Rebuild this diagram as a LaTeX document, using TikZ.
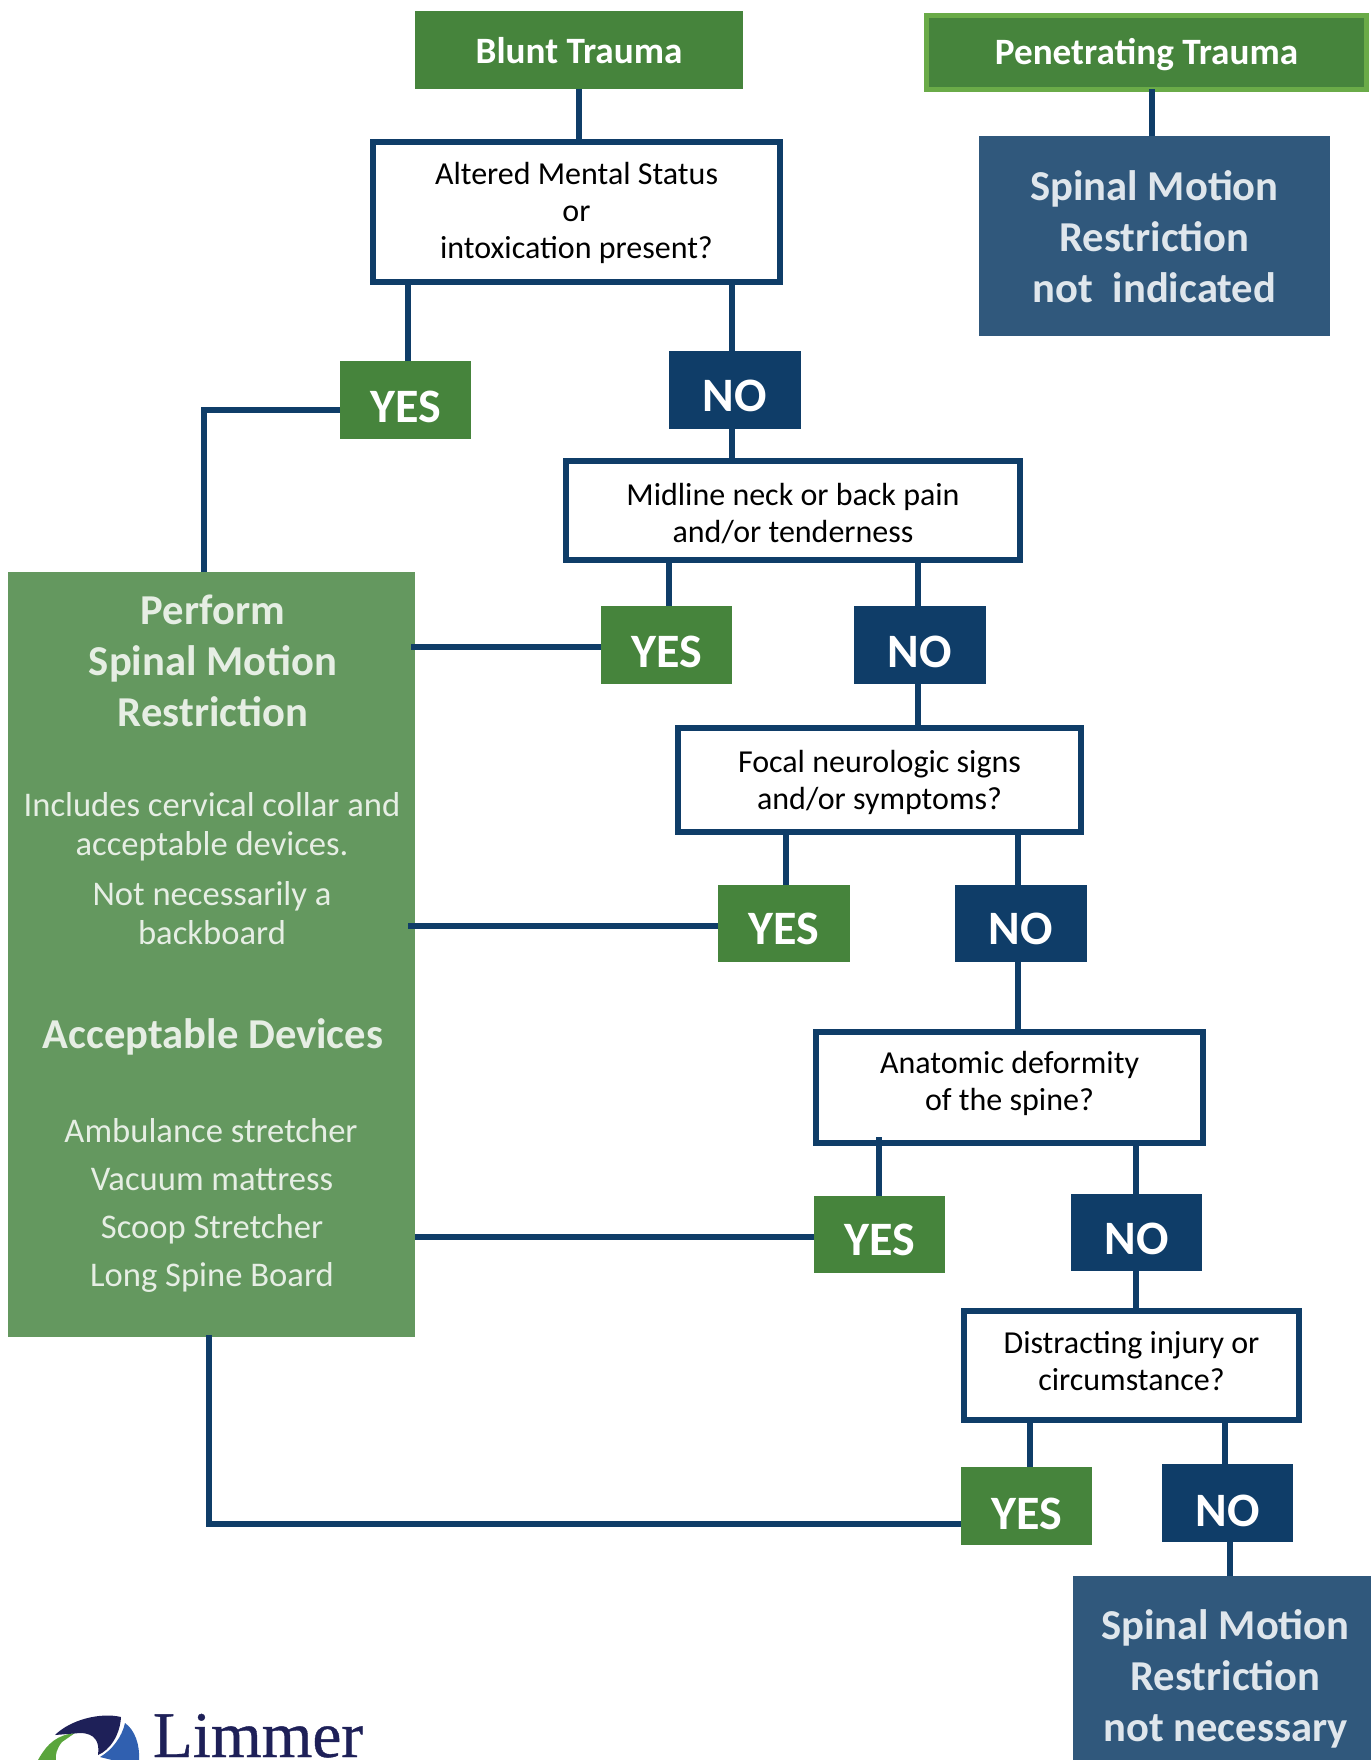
\documentclass[tikz,border=0pt]{standalone}
\usepackage{fontspec}
\setmainfont{Carlito}
\newfontfamily\logofont[FakeBold=0.6]{Liberation Serif}
\definecolor{linec}{HTML}{0F3D68}
\definecolor{yesc}{HTML}{46843C}
\definecolor{penb}{HTML}{6AAB48}
\definecolor{smrb}{HTML}{30587C}
\definecolor{smrt}{HTML}{DFE6EC}
\definecolor{perf}{HTML}{64985F}
\definecolor{perft}{HTML}{E6EEE4}
\definecolor{logon}{HTML}{1E2058}
\definecolor{logob}{HTML}{3060B0}
\definecolor{logog}{HTML}{5AA53C}
\tikzset{
  basebox/.style={inner sep=0pt,outer sep=0pt,align=center},
  titlebox/.style={basebox,fill=yesc,text=white,font=\fontsize{18.6}{22}\selectfont\bfseries},
  pentitle/.style={titlebox,draw=penb,line width=2.5pt},
  qbox/.style={basebox,draw=linec,line width=2.8pt,fill=white,text=black,font=\fontsize{16}{18.5}\selectfont},
  yesbox/.style={basebox,fill=yesc,text=white,font=\fontsize{24}{28}\selectfont\bfseries},
  nobox/.style={basebox,fill=linec,text=white,font=\fontsize{24}{28}\selectfont\bfseries},
  smrbox/.style={basebox,fill=smrb,text=smrt,font=\fontsize{21.3}{25.5}\selectfont\bfseries},
  perfbox/.style={basebox,fill=perf},
  ph/.style={basebox,text=perft,font=\fontsize{21.3}{25.5}\selectfont\bfseries},
  pb/.style={basebox,text=perft,font=\fontsize{17.3}{19.5}\selectfont},
  conn/.style={draw=linec,line width=2.8pt},
}
\def\xpad{}
% style, name, x1, y1, x2, y2, downward text shift in pt, text
\newcommand\bx[8]{\node[#1,minimum width={(#5-#3)*0.5pt},minimum height={(#6-#4)*0.5pt}] (#2) at ({(#3+#5)/2},{(#4+#6)/2}) {\xpad\raisebox{-#7pt}[\height][\depth]{\begin{tabular}{@{}c@{}}#8\end{tabular}}};}
\begin{document}
\begin{tikzpicture}[x=0.5pt,y=-0.5pt]
\useasboundingbox (0,0) rectangle (1371,1760);
% boxes
\bx{titlebox}{blunt}{415}{11}{743}{89}{2.2}{Blunt Trauma}
\bx{pentitle}{pen}{926.5}{15.5}{1366.5}{89.5}{1.7}{Penetrating Trauma}
\bx{smrbox}{smrni}{979}{136}{1330}{336}{2.8}{Spinal Motion\\Restriction\\not\ \ indicated}
\bx{qbox}{alt}{373}{142}{780}{282}{1.1}{Altered Mental Status\\or\\intoxication present?}
\bx{yesbox}{yesA}{340}{361}{471}{439}{5.6}{YES}
\bx{nobox}{noA}{669}{351}{800.5}{429}{5}{NO}
\bx{qbox}{mid}{566}{461}{1020}{560}{2.8}{Midline neck or back pain\\and/or tenderness}
\bx{yesbox}{yesB}{601}{606}{732}{684}{5.6}{YES}
\bx{nobox}{noB}{854}{606}{986}{684}{5.6}{NO}
\bx{qbox}{foc}{678}{728}{1081}{832}{1.7}{Focal neurologic signs\\and/or symptoms?}
\bx{yesbox}{yesC}{718}{885}{850}{962}{5}{YES}
\bx{nobox}{noC}{955}{885}{1087}{962}{5}{NO}
\bx{qbox}{ana}{816}{1032}{1203}{1143}{-1.7}{Anatomic deformity\\of the spine?}
\bx{yesbox}{yesD}{814}{1196}{945}{1273}{5}{YES}
\bx{nobox}{noD}{1071}{1194}{1202}{1271}{5.6}{NO}
\bx{qbox}{dis}{964}{1311}{1299}{1420}{-0.6}{Distracting injury or\\circumstance?}
\bx{yesbox}{yesE}{961}{1467}{1092}{1545}{6.2}{YES}
\bx{nobox}{noE}{1162}{1464}{1293}{1542}{6.2}{NO}
\def\xpad{\hspace{3.4pt}}
\bx{smrbox}{smrnn}{1073}{1576}{1371}{1760}{6.2}{Spinal Motion\\Restriction\\not necessary}
\def\xpad{}
\bx{perfbox}{perform}{8}{572}{415}{1337}{0}{}
% text in the Perform panel
\node[ph] (t1) at (213,661) {Perform\\Spinal Motion\\Restriction};
\node[pb] (t2) at (212,827) {Includes cervical collar and\\acceptable devices.};
\node[pb] (t3) at (212,913) {Not necessarily a\\backboard};
\node[ph] (t4) at (213,1037) {Acceptable Devices};
\node[pb] (t5) at (211,1131) {Ambulance stretcher};
\node[pb] (t6) at (212,1180) {Vacuum mattress};
\node[pb] (t7) at (212,1229) {Scoop Stretcher};
\node[pb] (t8) at (212,1277) {Long Spine Board};
% x positions of connectors
\coordinate (xa) at (579,0);
\coordinate (xb) at (1152,0);
\coordinate (xc) at (408,0);
\coordinate (xd) at (732,0);
\coordinate (xe) at (669,0);
\coordinate (xf) at (918,0);
\coordinate (xg) at (786,0);
\coordinate (xh) at (1018,0);
\coordinate (xi) at (879,0);
\coordinate (xj) at (1136,0);
\coordinate (xk) at (1030,0);
\coordinate (xl) at (1225,0);
\coordinate (xm) at (1230,0);
\coordinate (xn) at (204,0);
\coordinate (xo) at (209,0);
\coordinate (xp) at (411,0);
\coordinate (xq) at (408,0);
\coordinate (ya) at (0,410);
\coordinate (yb) at (0,647);
\coordinate (yc) at (0,926);
\coordinate (yd) at (0,1237);
\coordinate (ye) at (0,1524);
% connectors
\draw[conn] (blunt.south -| xa) -- (alt.north -| xa);
\draw[conn] (pen.south -| xb) -- (smrni.north -| xb);
\draw[conn] (alt.south -| xc) -- (yesA.north -| xc);
\draw[conn] (alt.south -| xd) -- (noA.north -| xd);
\draw[conn] (noA.south -| xd) -- (mid.north -| xd);
\draw[conn] (mid.south -| xe) -- (yesB.north -| xe);
\draw[conn] (mid.south -| xf) -- (noB.north -| xf);
\draw[conn] (noB.south -| xf) -- (foc.north -| xf);
\draw[conn] (foc.south -| xg) -- (yesC.north -| xg);
\draw[conn] ([yshift=1.5pt]foc.south -| xh) -- (noC.north -| xh);
\draw[conn] (noC.south -| xh) -- (ana.north -| xh);
\draw[conn] ([yshift=3pt]ana.south -| xi) -- (yesD.north -| xi);
\draw[conn] (ana.south -| xj) -- (noD.north -| xj);
\draw[conn] (noD.south -| xj) -- (dis.north -| xj);
\draw[conn] (dis.south -| xk) -- (yesE.north -| xk);
\draw[conn] (dis.south -| xl) -- (noE.north -| xl);
\draw[conn] (noE.south -| xm) -- (smrnn.north -| xm);
\draw[conn] (yesA.west |- ya) -| (perform.north -| xn);
\draw[conn] (yesB.west |- yb) -- (xp |- yb);
\draw[conn] (yesC.west |- yc) -- (xq |- yc);
\draw[conn] (yesD.west |- yd) -- (perform.east |- yd);
\draw[conn] ([yshift=1pt]perform.south -| xo) |- (yesE.west |- ye);
% logo, cut off by the lower edge of the picture
\begin{scope}
\clip (30,1715) rectangle (380,1760);
\fill[logog] (38,1760) .. controls (48,1742) and (58,1735) .. (75,1733) -- (62,1742) .. controls (57,1748) and (55,1755) .. (56,1760) -- cycle;
\fill[logon] (55,1735) .. controls (70,1720) and (100,1712) .. (121,1717) .. controls (120,1735) and (110,1750) .. (98,1755) .. controls (100,1742) and (95,1733) .. (80,1733) -- cycle;
\fill[logob] (125,1723) .. controls (135,1730) and (140,1745) .. (139,1760) -- (112,1760) -- (100,1757) .. controls (112,1750) and (122,1737) .. (125,1723) -- cycle;
\end{scope}
\node[basebox,anchor=base west,text=logon,font=\logofont\fontsize{32.6}{32.6}\selectfont] (limmer) at (153,1757) {Limmer};
\end{tikzpicture}
\end{document}
